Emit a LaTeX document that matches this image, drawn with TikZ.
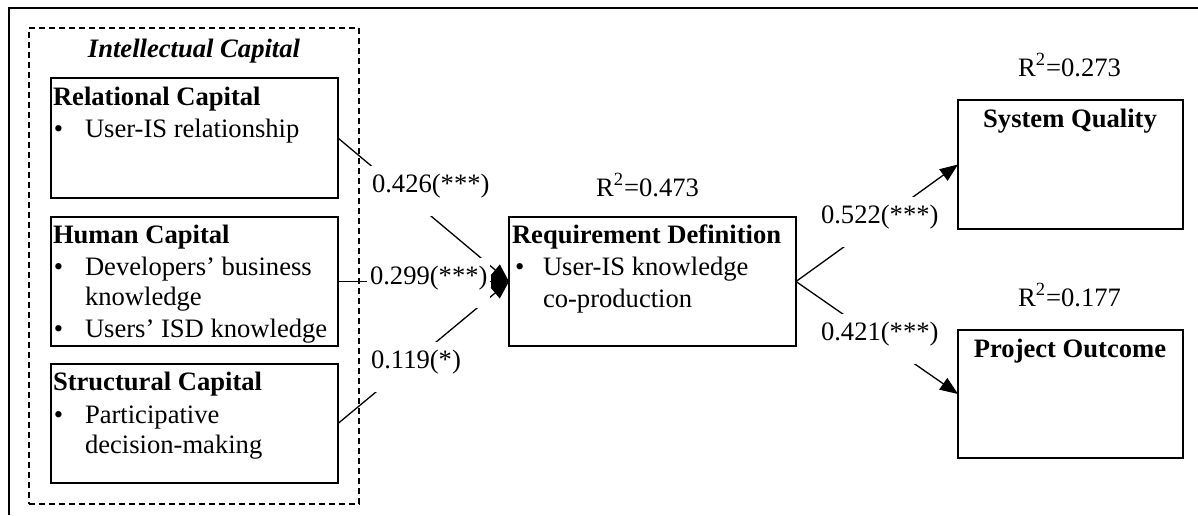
\documentclass[tikz,border=0pt]{standalone}
\usepackage{fontspec}
\setmainfont{Liberation Serif}
\usetikzlibrary{arrows.meta}

\begin{document}
\begin{tikzpicture}[
  x=0.5pt, y=-0.5pt,
  every node/.style={font=\fontsize{13.3pt}{15.5pt}\selectfont, inner sep=0pt, outer sep=0pt},
  box/.style={draw, line width=0.85pt, anchor=north west},
  groupbox/.style={draw, dashed, dash pattern=on 3pt off 2pt, line width=0.65pt, anchor=north west},
  txt/.style={anchor=base west},
  ttl/.style={anchor=base west, font=\fontsize{13.3pt}{15.5pt}\selectfont\bfseries},
  coef/.style={anchor=base west, fill=white, inner xsep=1.5pt, inner ysep=0pt,
               text height=13pt, text depth=12pt},
  path/.style={line width=0.65pt, -{Triangle[length=9pt,width=7pt]}},
  frameline/.style={line width=1pt}
]
\useasboundingbox (0,0) rectangle (1198,515);

% outer frame (top and left edges)
\draw[frameline] (8.5,515) -- (8.5,8) -- (1198,8);

% intellectual capital group
\node[groupbox, minimum width={330*0.5pt}, minimum height={476*0.5pt}] (ic) at (29,28) {};
\node[anchor=base, font=\fontsize{13.3pt}{15.5pt}\selectfont\bfseries\itshape] (ict) at (194,57) {Intellectual Capital};

% construct boxes
\node[box, minimum width={287*0.5pt}, minimum height={120*0.5pt}] (rc) at (51,78) {};
\node[box, minimum width={287*0.5pt}, minimum height={129*0.5pt}] (hc) at (51,217) {};
\node[box, minimum width={287*0.5pt}, minimum height={119*0.5pt}] (sc) at (51,364) {};
\node[box, minimum width={287*0.5pt}, minimum height={129*0.5pt}] (rd) at (509,217) {};
\node[box, minimum width={225*0.5pt}, minimum height={129*0.5pt}] (sq) at (958,100) {};
\node[box, minimum width={225*0.5pt}, minimum height={128*0.5pt}] (po) at (958,330) {};

% relational capital
\node[ttl] (rct) at (53,105) {Relational Capital};
\node[txt] (rcb1) at (54,137) {•};
\node[txt] (rcl1) at (85,137) {User-IS relationship};

% human capital
\node[ttl] (hct) at (53,243) {Human Capital};
\node[txt] (hcb1) at (54,275) {•};
\node[txt] (hcl1) at (85,275) {Developers’ business};
\node[txt] (hcl2) at (85,305) {knowledge};
\node[txt] (hcb2) at (54,337) {•};
\node[txt] (hcl3) at (85,337) {Users’ ISD knowledge};

% structural capital
\node[ttl] (sct) at (53,390) {Structural Capital};
\node[txt] (scb1) at (54,423) {•};
\node[txt] (scl1) at (85,423) {Participative};
\node[txt] (scl2) at (85,453) {decision-making};

% requirement definition
\node[ttl] (rdt) at (512,243) {Requirement Definition};
\node[txt] (rdb1) at (515,275) {•};
\node[txt] (rdl1) at (543,275) {User-IS knowledge};
\node[txt] (rdl2) at (543,307) {co-production};

% outcomes
\node[anchor=base, font=\fontsize{13.3pt}{15.5pt}\selectfont\bfseries] (sqt) at (1070,127) {System Quality};
\node[anchor=base, font=\fontsize{13.3pt}{15.5pt}\selectfont\bfseries] (pot) at (1070,357) {Project Outcome};

% explained variance
\node[txt] (r2rd) at (596,196) {R\textsuperscript{2}=0.473};
\node[txt] (r2sq) at (1018,76) {R\textsuperscript{2}=0.273};
\node[txt] (r2po) at (1018,306) {R\textsuperscript{2}=0.177};

% structural paths
\draw[path] (rc.east) -- (rd.west);
\draw[path] (hc.east) -- (rd.west);
\draw[path] (sc.east) -- (rd.west);
\draw[path] (rd.east) -- (sq.west);
\draw[path] (rd.east) -- (po.west);

% path coefficients
\node[coef] (c426) at (369,192) {0.426(***)};
\node[coef] (c299) at (367,284) {0.299(***)};
\node[coef] (c119) at (368,368) {0.119(*)};
\node[coef] (c522) at (818,223) {0.522(***)};
\node[coef] (c421) at (818,340) {0.421(***)};
\end{tikzpicture}
\end{document}
